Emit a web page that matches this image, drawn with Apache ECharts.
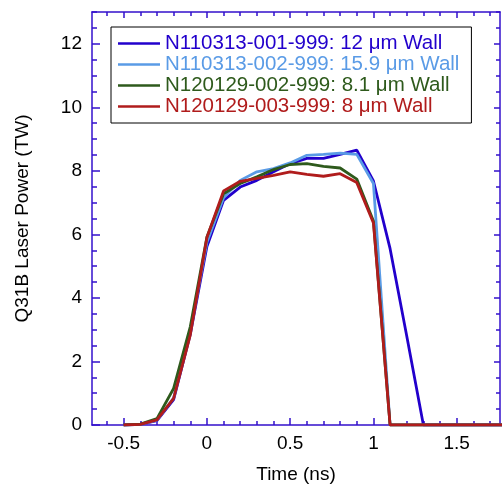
<!DOCTYPE html>
<html>
<head>
<meta charset="utf-8">
<script src="https://cdn.jsdelivr.net/npm/echarts@6/dist/echarts.min.js"></script>
<style>html,body{margin:0;padding:0;background:#fff;}#c{width:503px;height:486px;}</style>
</head>
<body>
<div id="c"></div>
<script>
var times = [-0.5,-0.4,-0.3,-0.2,-0.1,0,0.1,0.2,0.3,0.4,0.5,0.6,0.7,0.8,0.9,1.0,1.1,1.2,1.3,1.4,1.5,1.6,1.7,1.8];
var s12 = [0,0.02,0.14,0.8,2.85,5.62,7.07,7.49,7.7,7.97,8.23,8.39,8.39,8.52,8.65,7.68,5.55,2.8,0,0,0,0,0,0];
var s159 = [0,0.02,0.15,0.85,2.95,5.75,7.15,7.7,7.97,8.07,8.25,8.49,8.52,8.56,8.52,7.6,0,0,0,0,0,0,0,0];
var s81 = [0,0.03,0.2,1.15,3.09,5.92,7.28,7.6,7.81,8.04,8.2,8.23,8.14,8.09,7.74,6.42,0,0,0,0,0,0,0,0];
var s8 = [0,0.02,0.16,0.84,2.83,5.9,7.37,7.67,7.76,7.86,7.97,7.89,7.83,7.91,7.63,6.36,0,0,0,0,0,0,0,0];
var names = ['N110313-001-999: 12 \u03bcm Wall','N110313-002-999: 15.9 \u03bcm Wall','N120129-002-999: 8.1 \u03bcm Wall','N120129-003-999: 8 \u03bcm Wall'];
var colors = ['#2200cc','#5a9be6','#2e5a1c','#b01c1c'];
var xMajor = [-0.5,0,0.5,1,1.5];
var xMinor = [-0.6,-0.4,-0.3,-0.2,-0.1,0.1,0.2,0.3,0.4,0.6,0.7,0.8,0.9,1.1,1.2,1.3,1.4,1.6,1.7];
var yMajor = [0,2,4,6,8,10,12];

function pairs(arr){ return times.map(function(t,i){ return [t, arr[i]]; }); }
var all = [s12, s159, s81, s8];
var axisCol = '#3311cc';
var font = '"Liberation Sans", Arial, Helvetica, sans-serif';
var chart = echarts.init(document.getElementById('c'));
function xAx(pos, vals, len, labels, line){
  return {
    type:'value', min:-0.69, max:1.76, gridIndex:0,
    position: pos,
    axisLine: {show: line, onZero:false, lineStyle:{color:axisCol, width:1.5}},
    axisTick: {show:true, inside:true, length:len, customValues: vals, lineStyle:{color:axisCol, width:1.5}},
    axisLabel: labels ? {show:true, customValues: vals, fontSize:19, color:'#000', fontFamily:font, margin:9,
      formatter:function(v){ return String(Math.round(v*10)/10); }} : {show:false},
    splitLine: {show:false}
  };
}
function yAx(pos, interval, len, labels, line){
  var o = {
    type:'value', min:0, max:13, gridIndex:0,
    position: pos, interval: interval,
    axisLine: {show: line, onZero:false, lineStyle:{color:axisCol, width:1.5}},
    axisTick: {show:true, inside:true, length:len, lineStyle:{color:axisCol, width:1.5}},
    axisLabel: labels ? {show:true, customValues: yMajor, fontSize:19, color:'#000', fontFamily:font, margin:10} : {show:false},
    splitLine: {show:false}
  };
  if (interval === 2) { o.axisTick.customValues = yMajor; }
  return o;
}
var xa0 = xAx('bottom', xMajor, 7, true, true);
xa0.name = 'Time (ns)'; xa0.nameLocation = 'middle'; xa0.nameGap = 40;
xa0.nameTextStyle = {fontSize:19, color:'#000', fontFamily:font};
var ya0 = yAx('left', 2, 8, true, true);
ya0.name = 'Q31B Laser Power (TW)'; ya0.nameLocation = 'middle'; ya0.nameGap = 60;
ya0.nameTextStyle = {fontSize:19, color:'#000', fontFamily:font};

chart.setOption({
  animation:false,
  backgroundColor:'#fff',
  grid:{left:92, right:3, top:12, bottom:61, outerBoundsMode:'none', containLabel:false},
  legend:{
    orient:'vertical', left:111, top:27,
    backgroundColor:'#fff', borderColor:'#000', borderWidth:1,
    padding:[6,12,6,7], itemGap:0,
    icon:'rect', itemWidth:42, itemHeight:2.5,
    textStyle:{fontSize:20.5, fontFamily:font, padding:[0,0,0,0], lineHeight:21},
    data: names.map(function(n,i){ return {name:n, textStyle:{color:colors[i]}}; })
  },
  xAxis:[
    xa0,
    xAx('bottom', xMinor, 4, false, false),
    xAx('top', xMajor, 6, false, true),
    xAx('top', xMinor, 4, false, false)
  ],
  yAxis:[
    ya0,
    yAx('left', 0.5, 5, false, false),
    yAx('right', 2, 6, false, true),
    yAx('right', 0.5, 4, false, false)
  ],
  series: all.map(function(arr,i){
    return {name:names[i], type:'line', data:pairs(arr), xAxisIndex:0, yAxisIndex:0,
      symbol:'none', lineStyle:{color:colors[i], width:2.8}, itemStyle:{color:colors[i]}, clip:true};
  })
});
</script>
</body>
</html>
